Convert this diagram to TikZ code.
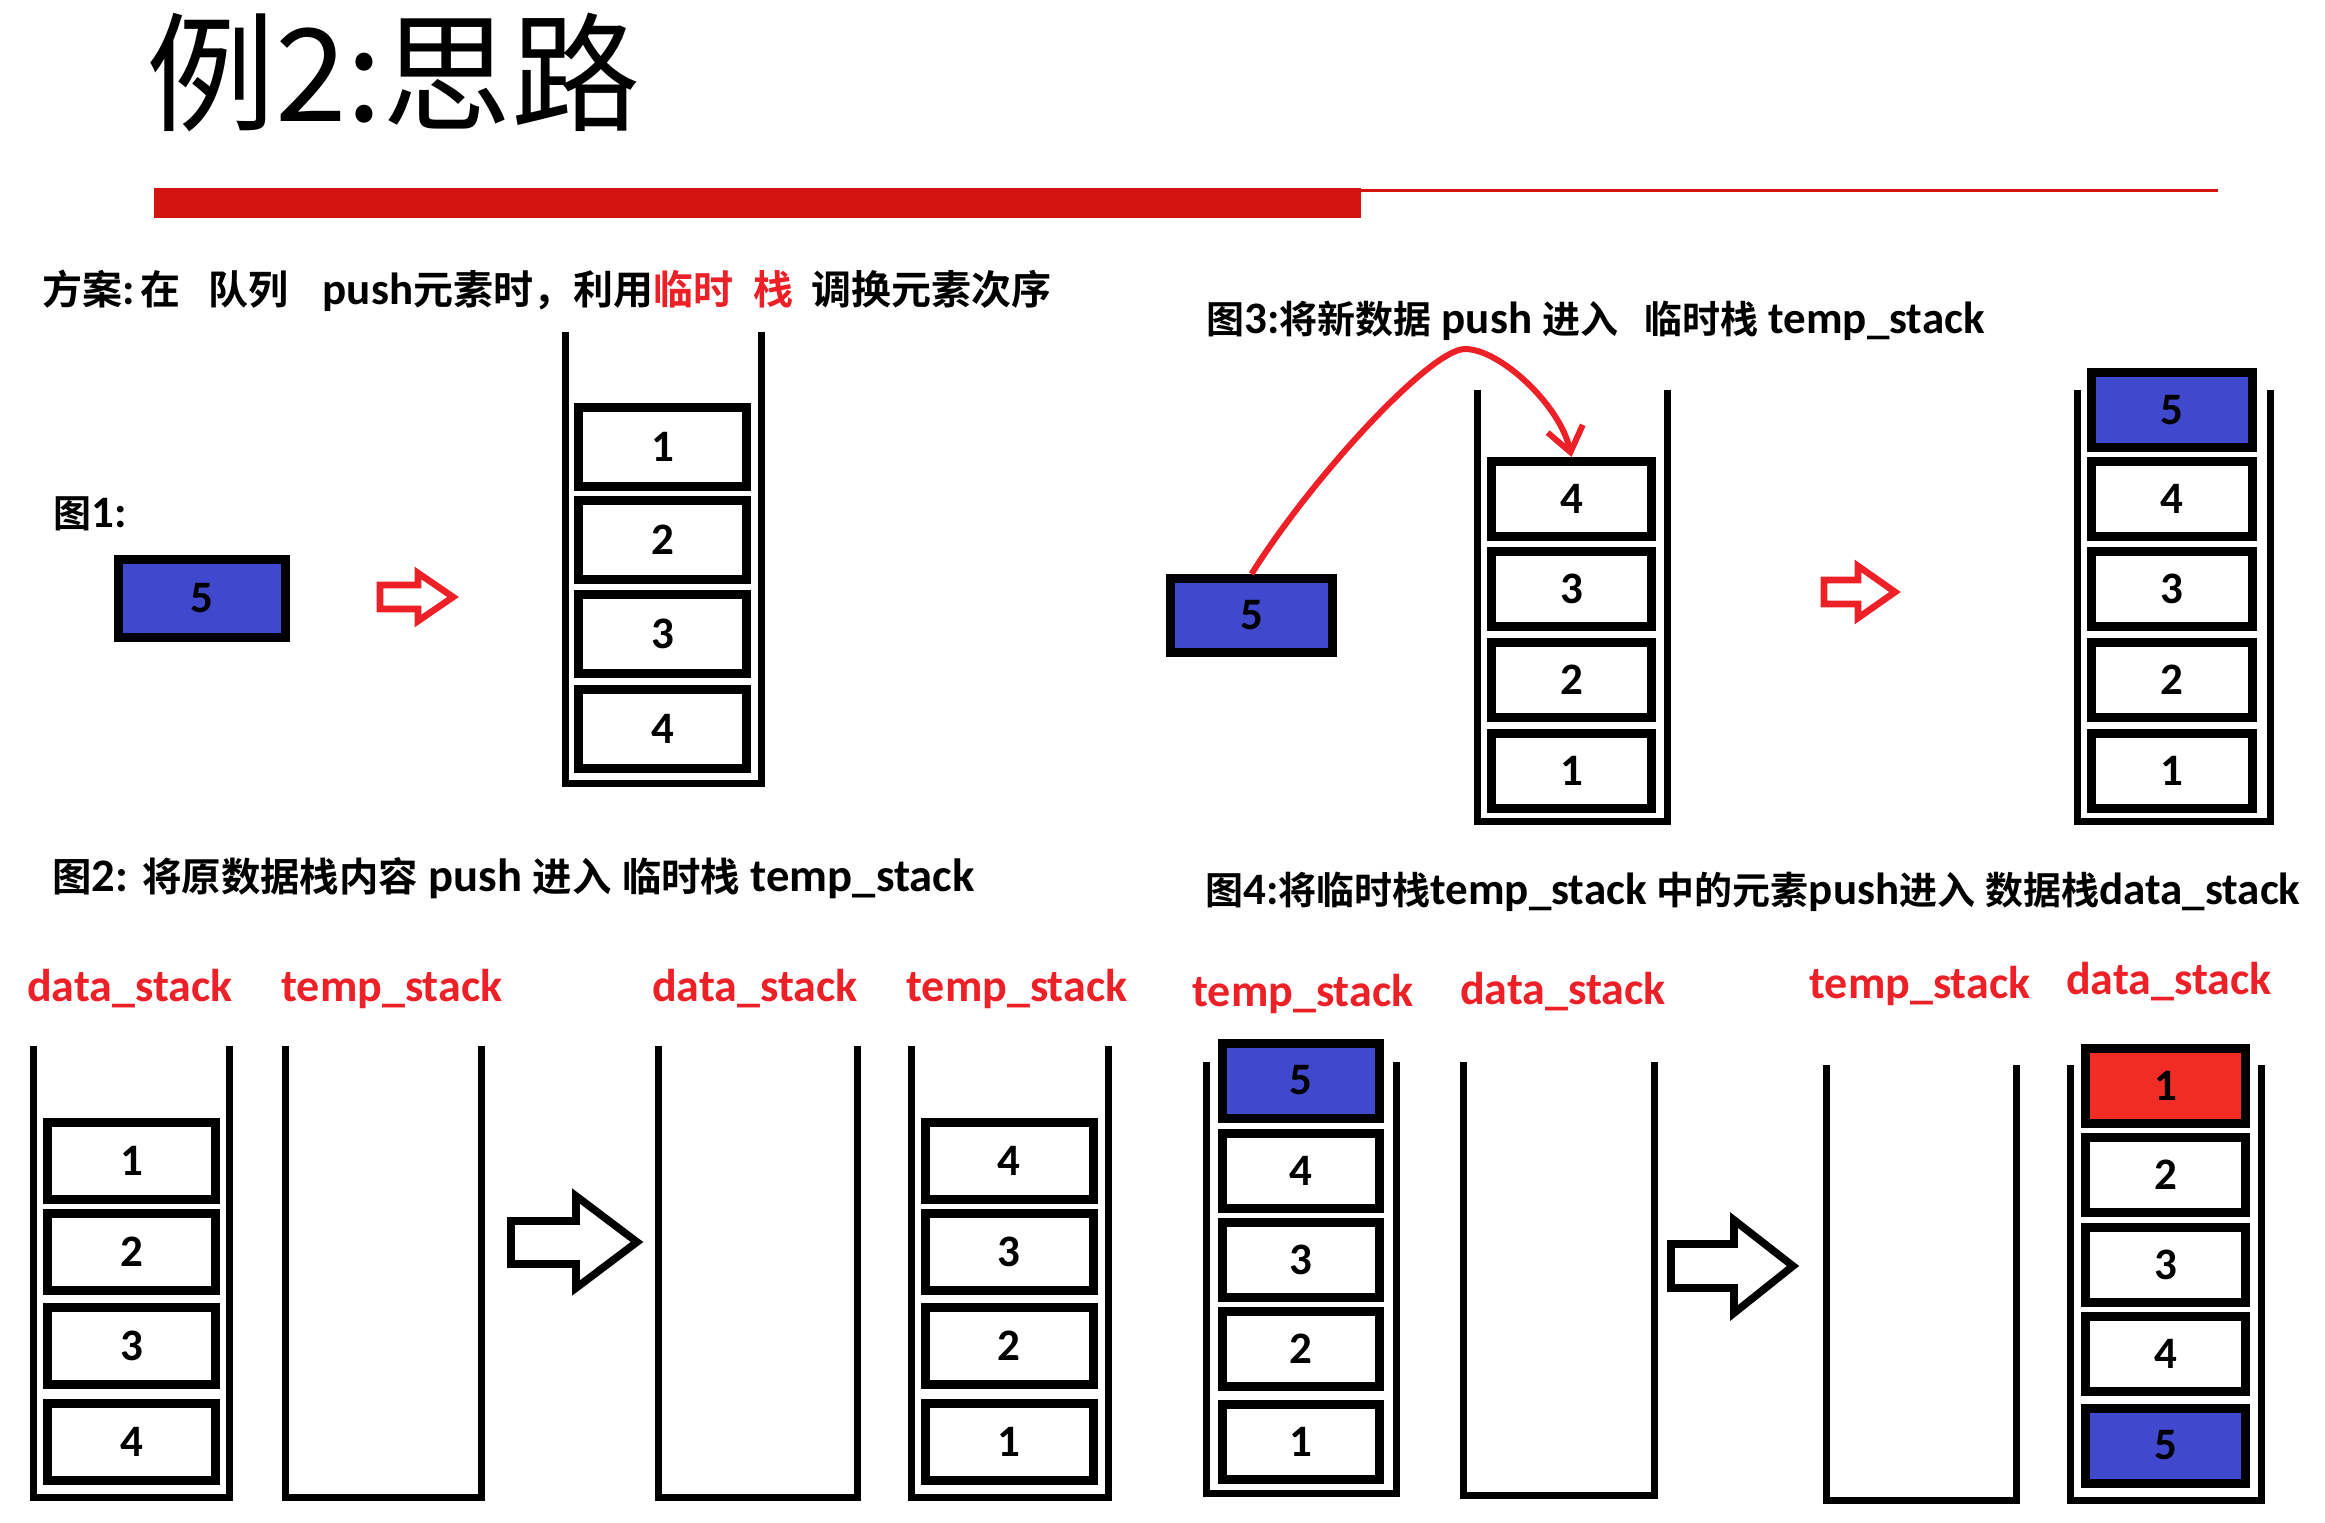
\documentclass[tikz,border=0pt]{standalone}
\usepackage{fontspec}
\setmainfont{Carlito}
\newfontfamily\cjk{Noto Sans CJK SC}[BoldFont={Noto Sans CJK SC Bold}]
\newcommand\zhsize{19}
\newcommand\zh[1]{{\cjk\bfseries\fontsize{\zhsize}{22}\selectfont #1}}
\usetikzlibrary{arrows.meta}
\definecolor{bluebox}{RGB}{64,72,206}
\definecolor{redbox}{RGB}{240,44,36}
\definecolor{redtxt}{RGB}{236,32,38}
\definecolor{barred}{RGB}{212,20,16}
\newcommand\stackwalls[4]{\draw[wall] (#1,#3) -- (#1,#4) -- (#2,#4) -- (#2,#3);}
\tikzset{
  wall/.style={line width=3.5pt, line join=miter},
  cell/.style 2 args={draw=black, line width=4.5pt, fill=white, inner sep=0pt,
    minimum width=#1, minimum height=#2, font=\fontsize{22.5}{24}\selectfont\bfseries},
  head/.style={anchor=base west, inner sep=0pt, font=\fontsize{22.5}{26}\selectfont\bfseries},
  lbl/.style={anchor=base, inner sep=0pt, text=redtxt, font=\fontsize{23}{26}\selectfont\bfseries},
  redhollow/.style={draw=redtxt, line width=3.3pt, line join=miter, fill=white},
  blackhollow/.style={draw=black, line width=3.8pt, line join=miter, fill=white},
  curve/.style={draw=redtxt, line width=3pt, -{Straight Barb[length=12pt,width=18pt]}},
}
\begin{document}
\begin{tikzpicture}[x=0.5pt,y=-0.5pt]
\useasboundingbox (0,0) rectangle (2325,1522);
% ---- title and bar
\node[anchor=base west, inner sep=0pt, font=\cjk\fontsize{64.5}{70}\selectfont] (title) at (146,121) {例2:思路};
\fill[barred] (154,188) rectangle (1361,218);
\draw[barred, line width=1.5pt] (1361,190) -- (2218,190);
% ---- headings
\node[head] (plan) at (42,304) {\renewcommand\zhsize{20}\zh{方案}:\hspace{3pt}\zh{在}\hspace{14pt}\zh{队列}\hspace{17pt}push\zh{元素时，利用}{\color{redtxt}\zh{临时}\hspace{10pt}\zh{栈}}\hspace{9pt}\zh{调换元素次序}};
\node[head] (fig1) at (53,527) {\zh{图}1:};
\node[head] (fig3) at (1206,333) {\zh{图}3:\zh{将新数据} push \zh{进入}\hspace{13pt}\zh{临时栈} temp\_stack};
\node[head, font=\fontsize{23.3}{26}\selectfont\bfseries] (fig2) at (52,891) {\renewcommand\zhsize{19.7}\zh{图}2: \zh{将原数据栈内容} push \zh{进入} \zh{临时栈} temp\_stack};
\node[head] (fig4) at (1205,904) {\zh{图}4:\zh{将临时栈}temp\_stack \zh{中的元素}push\zh{进入} \zh{数据栈}data\_stack};
% ---- figure 1
\node[cell={83.5pt}{39pt}, fill=bluebox] (b1) at (202,598.5) {5};
\draw[redhollow] (380,585) -- (418,585) -- (418,573) -- (453,597) -- (418,621) -- (418,609) -- (380,609) -- cycle;
\stackwalls{565}{761}{332}{783}
\begin{scope}[every node/.style={cell={84pt}{39.5pt}}]
\node (p1) at (662.5,447) {1};
\node (p2) at (662.5,540) {2};
\node (p3) at (662.5,633.5) {3};
\node (p4) at (662.5,728.5) {4};
\end{scope}
% ---- figure 3
\node[cell={81pt}{37pt}, fill=bluebox] (b3) at (1251.5,615.5) {5};
\stackwalls{1477}{1667}{390}{821}
\begin{scope}[every node/.style={cell={80pt}{37.5pt}}]
\node (a4) at (1571.5,499) {4};
\node (a3) at (1571.5,589) {3};
\node (a2) at (1571.5,680) {2};
\node (a1) at (1571.5,771) {1};
\end{scope}
\coordinate (peak) at (1465,349);
\draw[curve] (b3.north) .. controls (1310,480) and (1430,349) .. (peak) .. controls (1500,349) and (1560,405) .. (a4.north);
\draw[redhollow] (1824,580) -- (1858,580) -- (1858,566) -- (1895,592) -- (1858,618) -- (1858,604) -- (1824,604) -- cycle;
\stackwalls{2077}{2270}{390}{821}
\begin{scope}[every node/.style={cell={80.5pt}{37.5pt}}]
\node[fill=bluebox] (c5) at (2172,410) {5};
\node (c4) at (2172,499) {4};
\node (c3) at (2172,589) {3};
\node (c2) at (2172,680) {2};
\node (c1) at (2172,771) {1};
\end{scope}
% ---- figure 2
\node[lbl] (l1) at (130,1001) {data\_stack};
\node[lbl] (l2) at (392,1001) {temp\_stack};
\node[lbl] (l3) at (755,1001) {data\_stack};
\node[lbl] (l4) at (1017,1001) {temp\_stack};
\stackwalls{33}{229}{1046}{1497}
\stackwalls{285}{481}{1046}{1497}
\stackwalls{658}{857}{1046}{1497}
\stackwalls{911}{1108}{1046}{1497}
\begin{scope}[every node/.style={cell={84pt}{38.5pt}}]
\node (s1a) at (131.5,1160.5) {1};
\node (s1b) at (131.5,1252) {2};
\node (s1c) at (131.5,1346) {3};
\node (s1d) at (131.5,1441.5) {4};
\node (s4a) at (1009,1160.5) {4};
\node (s4b) at (1009,1252) {3};
\node (s4c) at (1009,1346) {2};
\node (s4d) at (1009,1441.5) {1};
\end{scope}
\draw[blackhollow] (511,1221) -- (576,1221) -- (576,1196) -- (637,1242) -- (576,1288) -- (576,1264) -- (511,1264) -- cycle;
% ---- figure 4
\node[lbl] (l5) at (1303,1006) {temp\_stack};
\node[lbl] (l6) at (1563,1004) {data\_stack};
\node[lbl] (l7) at (1920,998) {temp\_stack};
\node[lbl] (l8) at (2169,994) {data\_stack};
\stackwalls{1206}{1396}{1062}{1493}
\stackwalls{1463}{1654}{1062}{1495}
\stackwalls{1826}{2016}{1065}{1500}
\stackwalls{2070}{2261}{1065}{1500}
\begin{scope}[every node/.style={cell={78.5pt}{37.5pt}}]
\node[fill=bluebox] (t5) at (1301,1080.5) {5};
\node (t4) at (1301,1170.5) {4};
\node (t3) at (1301,1259.5) {3};
\node (t2) at (1301,1348.5) {2};
\node (t1) at (1301,1441.5) {1};
\end{scope}
\draw[blackhollow] (1671,1244) -- (1734,1244) -- (1734,1220) -- (1793,1266) -- (1734,1313) -- (1734,1288) -- (1671,1288) -- cycle;
\begin{scope}[every node/.style={cell={80pt}{37.5pt}}]
\node[fill=redbox] (d1) at (2165.5,1085.5) {1};
\node (d2) at (2165.5,1174.5) {2};
\node (d3) at (2165.5,1264.5) {3};
\node (d4) at (2165.5,1353.5) {4};
\node[fill=bluebox] (d5) at (2165.5,1445.5) {5};
\end{scope}
\end{tikzpicture}
\end{document}
